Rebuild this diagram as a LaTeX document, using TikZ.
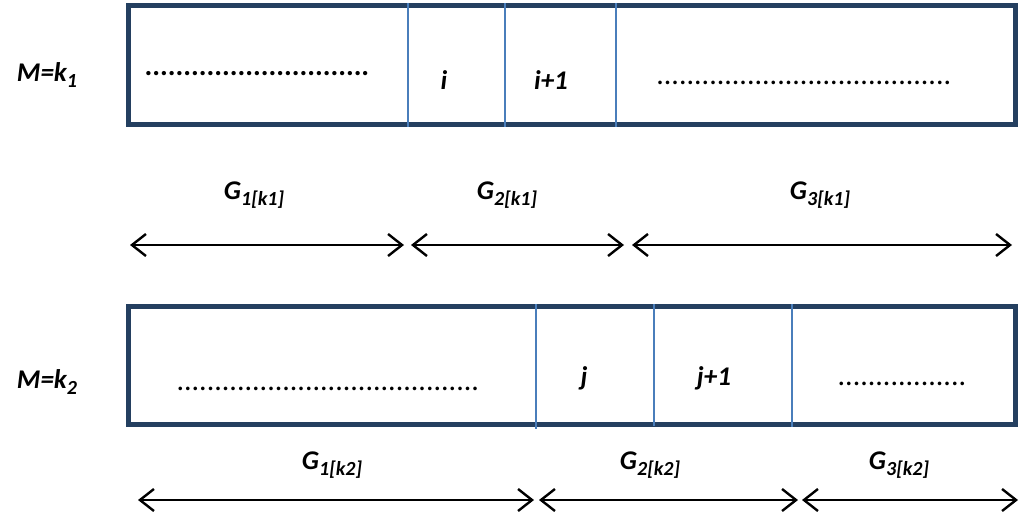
\documentclass[tikz,border=0pt]{standalone}
\usepackage{fontspec}
\setmainfont{Carlito}
\usetikzlibrary{arrows.meta}
\definecolor{framecol}{RGB}{36,63,96}
\definecolor{cutcol}{RGB}{74,126,187}
% lowered index, a bit larger than \textsubscript
\newcommand{\idx}[1]{\raisebox{-0.22em}{\fontsize{20}{20}\selectfont #1}}

\begin{document}
\begin{tikzpicture}[x=1pt,y=-1pt]
            \tikzstyle{arrow} = [line width=2.4pt,{Straight Barb[length=14pt,width=22pt]}-{Straight Barb[length=14pt,width=22pt]}]
            \tikzstyle{frame} = [draw=framecol,line width=5pt]
            \tikzstyle{cut} = [draw=cutcol,line width=1.3pt]
            \tikzstyle{lbl} = [inner sep=0pt,font=\fontsize{27}{27}\selectfont\bfseries\itshape]
            \tikzstyle{dots} = [inner sep=0pt,font=\fontsize{29}{29}\selectfont\bfseries]
            \tikzstyle{thindots} = [inner sep=0pt,font=\fontsize{30}{30}\selectfont]
            \def \left{128.5}
            \def \right{1015.5}
            \useasboundingbox (0,0) rectangle (1022,517);

            % row for M=k_1
            \draw[frame] (\left,5.5) rectangle (\right,124.5);
            \draw[cut] (408,3) -- (408,127);
            \draw[cut] (505,3) -- (505,127);
            \draw[cut] (616,3) -- (616,127);
            \node[lbl] (m1) at (47,75) {M=k\idx{1}};
            \node[dots,anchor=base] (d1) at (257,75) {.............................};
            \node[lbl] (i) at (444,80) {i};
            \node[lbl] (ip) at (551,80) {i+1};
            \node[thindots,anchor=base] (d2) at (804,84) {.......................................};

            \node[lbl] (g11) at (254,195) {G\idx{1[k1]}};
            \node[lbl] (g21) at (507,195) {G\idx{2[k1]}};
            \node[lbl] (g31) at (820,195) {G\idx{3[k1]}};
            \coordinate (a0) at (130,245);
            \coordinate (a1) at (404,245);
            \coordinate (b0) at (411,245);
            \coordinate (b1) at (624,245);
            \coordinate (c0) at (632,245);
            \coordinate (c1) at (1012,245);
            \draw[arrow] (a0) -- (a1);
            \draw[arrow] (b0) -- (b1);
            \draw[arrow] (c0) -- (c1);

            % row for M=k_2
            \draw[frame] (\left,306.5) rectangle (\right,424.5);
            \draw[cut] (536,304) -- (536,429);
            \draw[cut] (654,304) -- (654,426);
            \draw[cut] (792,304) -- (792,427);
            \node[lbl] (m2) at (47,382) {M=k\idx{2}};
            \node[thindots,anchor=base] (d3) at (328,390) {........................................};
            \node[lbl] (j) at (584,378) {j};
            \node[lbl] (jp) at (714,378) {j+1};
            \node[thindots,anchor=base] (d4) at (902,385) {.................};

            \node[lbl] (g12) at (332,465) {G\idx{1[k2]}};
            \node[lbl] (g22) at (650,465) {G\idx{2[k2]}};
            \node[lbl] (g32) at (899,465) {G\idx{3[k2]}};
            \coordinate (p0) at (138,500);
            \coordinate (p1) at (534,500);
            \coordinate (q0) at (539,500);
            \coordinate (q1) at (798,500);
            \coordinate (r0) at (802,500);
            \coordinate (r1) at (1018,500);
            \draw[arrow] (p0) -- (p1);
            \draw[arrow] (q0) -- (q1);
            \draw[arrow] (r0) -- (r1);
\end{tikzpicture}
\end{document}
